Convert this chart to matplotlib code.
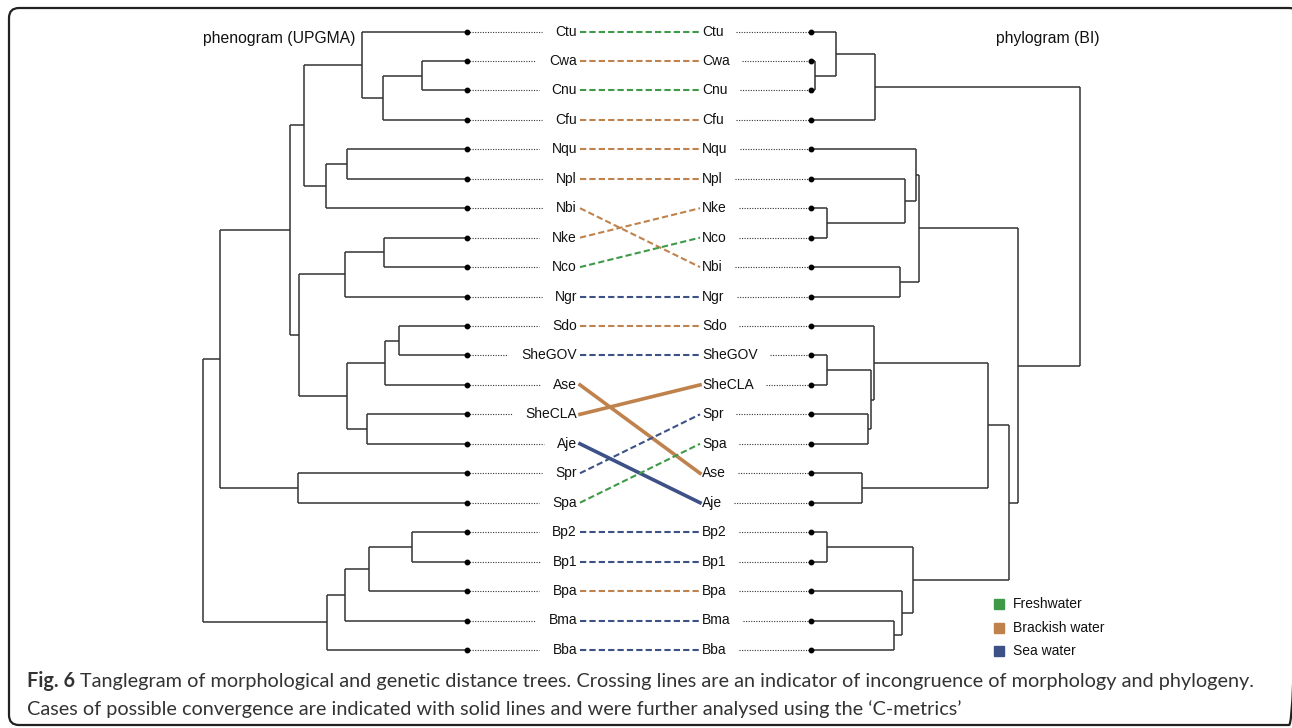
import numpy as np
import matplotlib.pyplot as plt
from matplotlib.patches import FancyBboxPatch

# row order of the taxa in each tree
left_taxa = ['Ctu', 'Cwa', 'Cnu', 'Cfu', 'Nqu', 'Npl', 'Nbi', 'Nke', 'Nco', 'Ngr',
             'Sdo', 'SheGOV', 'Ase', 'SheCLA', 'Aje', 'Spr', 'Spa',
             'Bp2', 'Bp1', 'Bpa', 'Bma', 'Bba']
right_taxa = ['Ctu', 'Cwa', 'Cnu', 'Cfu', 'Nqu', 'Npl', 'Nke', 'Nco', 'Nbi', 'Ngr',
              'Sdo', 'SheGOV', 'SheCLA', 'Spr', 'Spa', 'Ase', 'Aje',
              'Bp2', 'Bp1', 'Bpa', 'Bma', 'Bba']

# habitat of each taxon
fresh = ['Ctu', 'Cnu', 'Nco', 'Spa']
brackish = ['Cwa', 'Cfu', 'Nqu', 'Npl', 'Nbi', 'Nke', 'Sdo', 'Ase', 'SheCLA', 'Bpa']
sea = ['Ngr', 'SheGOV', 'Aje', 'Spr', 'Bp2', 'Bp1', 'Bma', 'Bba']
convergent = ['Ase', 'SheCLA', 'Aje']   # solid connectors

legend_labels = ['Freshwater', 'Brackish water', 'Sea water']
colors = ['#3f9a48', '#c0824d', '#3d5187']

# trees: (node height, child, child), leaves are taxon names
left_tree = (264,
             (247,
              (177,
               (163,
                (105, 'Ctu', (84, (45, 'Cwa', 'Cnu'), 'Cfu')),
                (141, (120, 'Nqu', 'Npl'), 'Nbi')),
               (168,
                (122, (83, 'Nke', 'Nco'), 'Ngr'),
                (120, (82, (68, 'Sdo', 'SheGOV'), 'Ase'), (100, 'SheCLA', 'Aje')))),
              (169, 'Spr', 'Spa')),
             (140, (122, (98, (55, 'Bp2', 'Bp1'), 'Bpa'), 'Bma'), 'Bba'))

right_tree = (269,
              (64, (25, 'Ctu', (4, 'Cwa', 'Cnu')), 'Cfu'),
              (207,
               (108,
                (105, 'Nqu', (94, 'Npl', (16, 'Nke', 'Nco'))),
                (89, 'Nbi', 'Ngr')),
               (198,
                (177,
                 (63, 'Sdo', (60, (16, 'SheGOV', 'SheCLA'), (57, 'Spr', 'Spa'))),
                 (51, 'Ase', 'Aje')),
                (102, (16, 'Bp2', 'Bp1'), (91, 'Bpa', (83, 'Bma', 'Bba'))))))

W, H = 1292, 728
fig = plt.figure(figsize=(W / 100, H / 100), dpi=100)
ax = fig.add_axes([0, 0, 1, 1])
ax.set_xlim(0, W)
ax.set_ylim(H, 0)
ax.axis('off')

lab_font = 'Liberation Sans'
tree_col = '#333333'

y0, dy = 31.5, 29.45
row_y = lambda i: y0 + dy * i
left_y = {t: row_y(i) for i, t in enumerate(left_taxa)}
right_y = {t: row_y(i) for i, t in enumerate(right_taxa)}

left_tip, right_tip = 467, 811
left_lab, right_lab = 577, 702


def height(node):
    return 0 if isinstance(node, str) else node[0]


def draw_tree(node, tip, sign, ys):
    if isinstance(node, str):
        return ys[node]
    h, a, b = node
    x = tip + sign * h
    yc = []
    for child in (a, b):
        y = draw_tree(child, tip, sign, ys)
        ax.plot([x, tip + sign * height(child)], [y, y], color=tree_col, lw=1.1,
                solid_capstyle='butt')
        yc.append(y)
    ax.plot([x, x], yc, color=tree_col, lw=1.1, solid_capstyle='butt')
    return (yc[0] + yc[1]) / 2


draw_tree(left_tree, left_tip, -1, left_y)
draw_tree(right_tree, right_tip, 1, right_y)

renderer = fig.canvas.get_renderer()
inv = ax.transData.inverted()

# labels, dotted leaders and tip dots
for t in left_taxa:
    y = left_y[t]
    txt = ax.text(left_lab, y, t, ha='right', va='center', fontsize=10,
                  family=lab_font, color='#111111')
    x0 = inv.transform(txt.get_window_extent(renderer))[0][0]
    ax.plot([left_tip, x0 - 13], [y, y], ls=(0, (1, 1.3)), lw=0.8, color=tree_col)
    ax.plot(left_tip, y, 'o', ms=3.2, color='black')

for t in right_taxa:
    y = right_y[t]
    txt = ax.text(right_lab, y, t, ha='left', va='center', fontsize=10,
                  family=lab_font, color='#111111')
    x1 = inv.transform(txt.get_window_extent(renderer))[1][0]
    ax.plot([x1 + 12, right_tip], [y, y], ls=(0, (1, 1.3)), lw=0.8, color=tree_col)
    ax.plot(right_tip, y, 'o', ms=3.2, color='black')

# connectors between the two trees
for t in left_taxa:
    if t in fresh:
        c = colors[0]
    elif t in brackish:
        c = colors[1]
    else:
        c = colors[2]
    if t in convergent:
        ax.plot([580, 700], [left_y[t], right_y[t]], color=c, lw=2.6)
    else:
        ax.plot([580, 700], [left_y[t], right_y[t]], color=c, lw=1.5,
                ls=(0, (3, 1.5)))

# tree titles
ax.text(203, 38, 'phenogram (UPGMA)', ha='left', va='center', fontsize=11.3,
        family=lab_font, color='#111111')
ax.text(1099, 38, 'phylogram (BI)', ha='right', va='center', fontsize=11.3,
        family=lab_font, color='#111111')

# legend
for i, (lab, c) in enumerate(zip(legend_labels, colors)):
    y = 604 + 23.5 * i
    ax.plot(999, y, 's', ms=7, color=c)
    ax.text(1013, y, lab, ha='left', va='center', fontsize=10, family=lab_font,
            color='#111111')

# frame
ax.add_patch(FancyBboxPatch((9, 8), 1290, 717, boxstyle='round,pad=0,rounding_size=10',
                            fc='none', ec='#222222', lw=1.6, clip_on=False))

# caption, fitted to the line width of the reference
cap_font = 'Lato'
cap_col = '#333333'
line1 = ('Tanglegram of morphological and genetic distance trees. Crossing lines are an '
         'indicator of incongruence of morphology and phylogeny.')
line2 = ('Cases of possible convergence are indicated with solid lines and were further '
         'analysed using the \u2018C-metrics\u2019')
fs = 14
tb = ax.text(27, 681, 'Fig. 6', fontsize=fs, fontweight='bold', family=cap_font,
             va='center', color=cap_col)
t1 = ax.text(0, 681, line1, fontsize=fs, family=cap_font, va='center', color=cap_col)
wb = tb.get_window_extent(renderer).width
w1 = t1.get_window_extent(renderer).width
fs = fs * (1262 - 27 - 5) / (wb + w1)
tb.set_fontsize(fs)
t1.set_fontsize(fs)
xb = inv.transform(tb.get_window_extent(renderer))[1][0]
t1.set_x(xb + 5)
ax.text(27, 709, line2, fontsize=fs, family=cap_font, va='center', color=cap_col)

fig.savefig('out.png', dpi=100)
